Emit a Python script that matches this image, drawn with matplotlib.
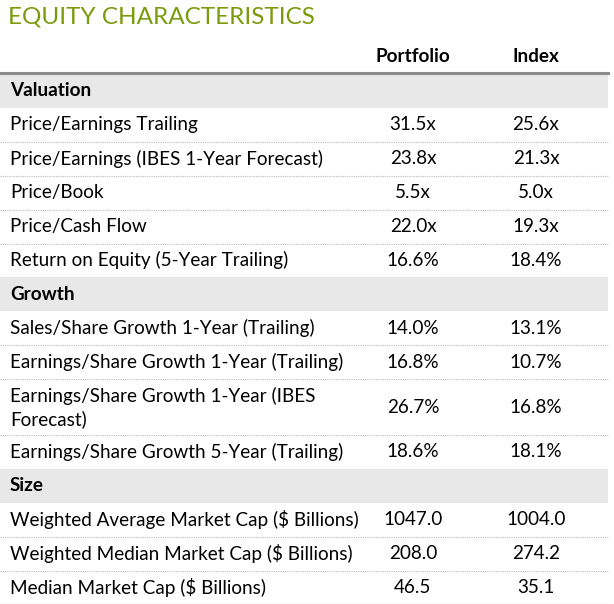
import matplotlib
matplotlib.use("Agg")
import matplotlib.pyplot as plt

title = "EQUITY CHARACTERISTICS"
columns = ["Portfolio", "Index"]
sections = ["Valuation", "Growth", "Size"]
labels = [
    ["Price/Earnings Trailing", "Price/Earnings (IBES 1-Year Forecast)", "Price/Book",
     "Price/Cash Flow", "Return on Equity (5-Year Trailing)"],
    ["Sales/Share Growth 1-Year (Trailing)", "Earnings/Share Growth 1-Year (Trailing)",
     "Earnings/Share Growth 1-Year (IBES\nForecast)", "Earnings/Share Growth 5-Year (Trailing)"],
    ["Weighted Average Market Cap ($ Billions)", "Weighted Median Market Cap ($ Billions)",
     "Median Market Cap ($ Billions)"],
]
portfolio = [["31.5x", "23.8x", "5.5x", "22.0x", "16.6%"],
             ["14.0%", "16.8%", "26.7%", "18.6%"],
             ["1047.0", "208.0", "46.5"]]
index_vals = [["25.6x", "21.3x", "5.0x", "19.3x", "18.4%"],
              ["13.1%", "10.7%", "16.8%", "18.1%"],
              ["1004.0", "274.2", "35.1"]]

W, H = 614, 604
fig = plt.figure(figsize=(W / 100, H / 100), dpi=100)
ax = fig.add_axes([0, 0, 1, 1])
ax.set_xlim(0, W)
ax.set_ylim(H, 0)
ax.axis("off")
plt.rcParams["font.family"] = "Lato"
fs = 13.6
x0, x1 = 0, 608
xp, xi = 413, 536

ax.text(8, 17, title, fontsize=17.5, color="#7b9b0c", va="center", ha="left")
ax.text(xp, 57, columns[0], fontsize=fs, fontweight="bold", ha="center", va="center")
ax.text(xi, 57, columns[1], fontsize=fs, fontweight="bold", ha="center", va="center")
ax.plot([x0, x1], [73, 73], color="#8c8c8c", lw=2.2)

y = 74
rh = 33.9
for s, sec in enumerate(sections):
    ax.add_patch(plt.Rectangle((x0, y), x1 - x0, rh, color="#e8e8e8", lw=0))
    ax.text(10, y + rh / 2, sec, fontsize=fs, fontweight="bold", va="center")
    y += rh
    for lab, p, iv in zip(labels[s], portfolio[s], index_vals[s]):
        h = rh * (1.65 if "\n" in lab else 1)
        c = y + h / 2
        ax.text(10, c, lab, fontsize=fs, va="center", linespacing=1.35)
        ax.text(xp, c, p, fontsize=fs, va="center", ha="center")
        ax.text(xi, c, iv, fontsize=fs, va="center", ha="center")
        y += h
        if lab != labels[s][-1]:
            ax.plot([x0, x1], [y, y], color="#bbbbbb", lw=0.8, ls=(0, (1, 1)))
ax.plot([x0, x1], [y, y], color="#8c8c8c", lw=1.5)

fig.savefig("out.png", dpi=100)
